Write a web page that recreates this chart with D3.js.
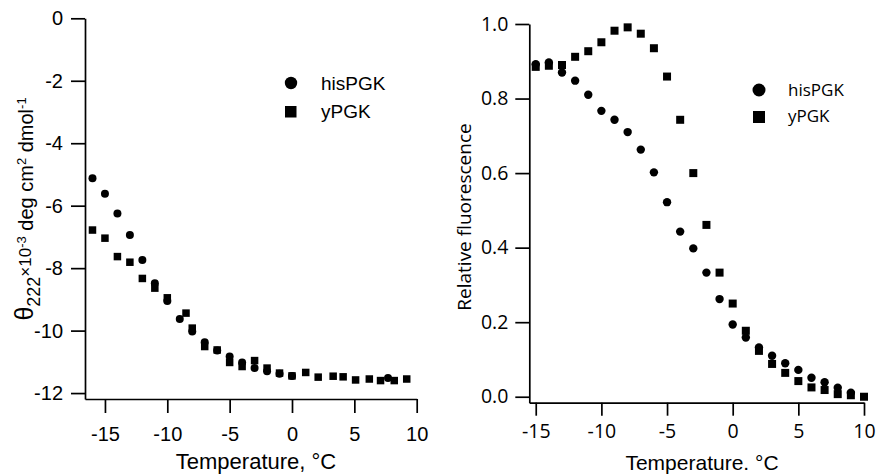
<!DOCTYPE html>
<html>
<head>
<meta charset="utf-8">
<script src="https://cdn.jsdelivr.net/npm/d3@7"></script>
<style>
  body { margin: 0; background: #fff; }
  svg { display: block; }
</style>
</head>
<body>
<svg width="879" height="474"></svg>
<script>
// CD data (left panel), theta 222 x 10^-3
const cdTempHis = [-16, -15, -14, -13, -12, -11, -10, -9, -8, -7, -6, -5, -4, -3, -2, -1, 0, 7.7];
const cdHis = [-5.12, -5.62, -6.25, -6.94, -7.74, -8.48, -9.05, -9.63, -10.03, -10.37, -10.64, -10.83, -11.02, -11.2, -11.3, -11.38, -11.45, -11.52];
const cdTempY = [-16, -15, -14, -13, -12, -11, -10, -8.5, -8, -7, -6, -5, -4, -3, -2, -1, 0, 1.1, 2.1, 3.3, 4.1, 5.1, 6.2, 7.1, 8.2, 9.2];
const cdY = [-6.78, -7.04, -7.63, -7.81, -8.33, -8.64, -8.95, -9.44, -9.92, -10.51, -10.62, -11.02, -11.15, -10.96, -11.2, -11.36, -11.45, -11.34, -11.49, -11.46, -11.48, -11.58, -11.55, -11.6, -11.6, -11.55];

// fluorescence data (right panel)
const flTempHis = [-15, -14, -13, -12, -11, -10, -9, -8, -7, -6, -5, -4, -3, -2, -1, 0, 1, 2, 3, 4, 5, 6, 7, 8, 9];
const flHis = [0.892, 0.897, 0.870, 0.848, 0.810, 0.767, 0.743, 0.710, 0.663, 0.602, 0.522, 0.443, 0.398, 0.333, 0.262, 0.194, 0.159, 0.132, 0.110, 0.090, 0.072, 0.051, 0.039, 0.024, 0.011];
const flTempY = [-15, -14, -13, -12, -11, -10, -9, -8, -7, -6, -5, -4, -3, -2, -1, 0, 1, 2, 3, 4, 5, 6, 7, 8, 9, 10];
const flY = [0.885, 0.888, 0.890, 0.912, 0.927, 0.951, 0.982, 0.991, 0.974, 0.935, 0.859, 0.743, 0.600, 0.461, 0.333, 0.250, 0.177, 0.123, 0.088, 0.064, 0.042, 0.025, 0.018, 0.007, 0.004, 0.0];

const xTicks = [-15, -10, -5, 0, 5, 10];
const cdTicks = [0, -2, -4, -6, -8, -10, -12];
const flTicks = [0, 0.2, 0.4, 0.6, 0.8, 1.0];
const seriesNames = ["hisPGK", "yPGK"];

const svg = d3.select("svg");

// ---------- left panel ----------
const fontL = "'Liberation Sans', Arial, sans-serif";
const xL = d3.scaleLinear().domain([-16.6, 10]).range([85, 416.7]);
const yL = d3.scaleLinear().domain([-12.19, 0]).range([399, 18.3]);

const gxL = svg.append("g")
  .attr("transform", "translate(0,399)")
  .call(d3.axisBottom(xL).tickValues(xTicks).tickSize(14).tickSizeOuter(0).tickPadding(14).tickFormat(d => String(d)));
const gyL = svg.append("g")
  .attr("transform", "translate(85,0)")
  .call(d3.axisLeft(yL).tickValues(cdTicks).tickSize(14).tickSizeOuter(0).tickPadding(8).tickFormat(d => String(d)));

[gxL, gyL].forEach(g => {
  g.selectAll("path, line").attr("stroke", "#000").attr("stroke-width", 1.7);
  g.selectAll("text").attr("font-family", fontL).attr("font-size", 20).attr("fill", "#000");
});

svg.append("g").selectAll("circle")
  .data(cdTempHis.map((t, i) => [t, cdHis[i]]))
  .enter().append("circle")
  .attr("cx", d => xL(d[0]))
  .attr("cy", d => yL(d[1]))
  .attr("r", 4)
  .attr("fill", "#000");

svg.append("g").selectAll("rect")
  .data(cdTempY.map((t, i) => [t, cdY[i]]))
  .enter().append("rect")
  .attr("x", d => xL(d[0]) - 3.75)
  .attr("y", d => yL(d[1]) - 3.75)
  .attr("width", 7.5)
  .attr("height", 7.5)
  .attr("fill", "#000");

// legend left
svg.append("circle").attr("cx", 291).attr("cy", 83).attr("r", 6.2).attr("fill", "#000");
svg.append("rect").attr("x", 285).attr("y", 106).attr("width", 11.5).attr("height", 11.5).attr("fill", "#000");
svg.append("text").attr("x", 321).attr("y", 90).attr("font-family", fontL).attr("font-size", 19).text(seriesNames[0]);
svg.append("text").attr("x", 321).attr("y", 118).attr("font-family", fontL).attr("font-size", 19).text(seriesNames[1]);

svg.append("text")
  .attr("x", 256).attr("y", 469)
  .attr("text-anchor", "middle")
  .attr("font-family", fontL).attr("font-size", 22)
  .text("Temperature, °C");

// y label with sub/superscripts
const yLab = svg.append("text")
  .attr("transform", "translate(33,209) rotate(-90)")
  .attr("text-anchor", "middle")
  .attr("font-family", fontL).attr("font-size", 20);
yLab.append("tspan").attr("font-size", 25).text("θ");
yLab.append("tspan").attr("font-size", 18).attr("dy", 7).text("222");
yLab.append("tspan").attr("font-size", 17).attr("dy", -9).text("×10");
yLab.append("tspan").attr("font-size", 13).attr("dy", -5).text("-3");
yLab.append("tspan").attr("dy", 7).text(" deg cm");
yLab.append("tspan").attr("font-size", 13).attr("dy", -7).text("2");
yLab.append("tspan").attr("dy", 7).text(" dmol");
yLab.append("tspan").attr("font-size", 13).attr("dy", -7).text("-1");

// ---------- right panel ----------
const fontR = "'Open Sans', 'Noto Sans', sans-serif";
const xR = d3.scaleLinear().domain([-15.49, 10]).range([529.3, 864]);
const yR = d3.scaleLinear().domain([-0.016, 1.0]).range([402.7, 24]);

const gxR = svg.append("g")
  .attr("transform", "translate(0,402.7)")
  .call(d3.axisBottom(xR).tickValues(xTicks).tickSize(13).tickSizeOuter(0).tickPadding(8).tickFormat(d => String(d)));
const gyR = svg.append("g")
  .attr("transform", "translate(529.3,0)")
  .call(d3.axisLeft(yR).tickValues(flTicks).tickSize(14).tickSizeOuter(0).tickPadding(7).tickFormat(d3.format(".1f")));

[gxR, gyR].forEach(g => {
  g.selectAll("path, line").attr("stroke", "#000").attr("stroke-width", 1.7);
  g.selectAll("text").attr("font-family", fontR).attr("font-size", 19.5).attr("fill", "#000");
});

svg.append("g").selectAll("circle")
  .data(flTempHis.map((t, i) => [t, flHis[i]]))
  .enter().append("circle")
  .attr("cx", d => xR(d[0]))
  .attr("cy", d => yR(d[1]))
  .attr("r", 4.2)
  .attr("fill", "#000");

svg.append("g").selectAll("rect")
  .data(flTempY.map((t, i) => [t, flY[i]]))
  .enter().append("rect")
  .attr("x", d => xR(d[0]) - 4)
  .attr("y", d => yR(d[1]) - 4)
  .attr("width", 8)
  .attr("height", 8)
  .attr("fill", "#000");

// legend right
svg.append("circle").attr("cx", 759).attr("cy", 90).attr("r", 6.5).attr("fill", "#000");
svg.append("rect").attr("x", 753).attr("y", 111).attr("width", 12).attr("height", 12).attr("fill", "#000");
svg.append("text").attr("x", 788).attr("y", 96).attr("font-family", fontR).attr("font-size", 17).text(seriesNames[0]);
svg.append("text").attr("x", 788).attr("y", 122).attr("font-family", fontR).attr("font-size", 17).text(seriesNames[1]);

svg.append("text")
  .attr("x", 702).attr("y", 469.5)
  .attr("text-anchor", "middle")
  .attr("font-family", fontL).attr("font-size", 21)
  .text("Temperature. °C");

svg.append("text")
  .attr("transform", "translate(471,217) rotate(-90)")
  .attr("text-anchor", "middle")
  .attr("font-family", fontR).attr("font-size", 19)
  .text("Relative fluorescence");
</script>
</body>
</html>
